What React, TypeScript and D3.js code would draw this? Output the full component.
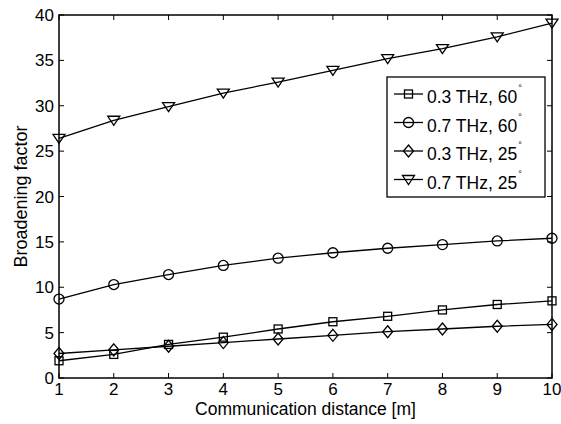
import React, { useEffect, useRef } from "react";
import * as d3 from "d3";

const distance = [1, 2, 3, 4, 5, 6, 7, 8, 9, 10];
const sq03_60 = [1.9, 2.6, 3.7, 4.5, 5.4, 6.2, 6.8, 7.5, 8.1, 8.5];
const ci07_60 = [8.7, 10.3, 11.4, 12.4, 13.2, 13.8, 14.3, 14.7, 15.1, 15.4];
const di03_25 = [2.7, 3.1, 3.5, 3.9, 4.3, 4.7, 5.1, 5.4, 5.7, 5.9];
const tr07_25 = [26.4, 28.4, 29.9, 31.4, 32.6, 33.9, 35.2, 36.3, 37.6, 39.1];
const seriesNames = ["0.3 THz, 60", "0.7 THz, 60", "0.3 THz, 25", "0.7 THz, 25"];
const markers = ["square", "circle", "diamond", "triangle"];
const yTicks = [0, 5, 10, 15, 20, 25, 30, 35, 40];

const App = () => {
  const svgRef = useRef<SVGSVGElement>(null);

  useEffect(() => {
    const svg = d3.select(svgRef.current);
    svg.selectAll("*").remove();

    const W = 561, H = 424;
    const m = { left: 59, right: 9, top: 15, bottom: 46 };
    const x = d3.scaleLinear().domain([1, 10]).range([m.left, W - m.right]);
    const y = d3.scaleLinear().domain([0, 40]).range([H - m.bottom, m.top]);
    const font = "Helvetica, Arial, 'Liberation Sans', sans-serif";

    svg.attr("width", W).attr("height", H).style("font-family", font);
    svg.append("rect").attr("width", W).attr("height", H).attr("fill", "#fff");

    const drawMarker = (g: any, type: string, cx: number, cy: number) => {
      const s = { fill: "none", stroke: "#000", "stroke-width": 1.3 };
      let el: any;
      if (type === "square") {
        el = g.append("rect").attr("x", cx - 4).attr("y", cy - 4).attr("width", 8).attr("height", 8);
      } else if (type === "circle") {
        el = g.append("circle").attr("cx", cx).attr("cy", cy).attr("r", 5);
      } else if (type === "diamond") {
        el = g.append("path").attr("d", `M${cx},${cy - 6}L${cx + 5},${cy}L${cx},${cy + 6}L${cx - 5},${cy}Z`);
      } else {
        el = g.append("path").attr("d", `M${cx - 6},${cy - 4}L${cx + 6},${cy - 4}L${cx},${cy + 5}Z`);
      }
      Object.entries(s).forEach(([k, v]) => el.attr(k, v));
    };

    // frame
    const x0 = x(1), x1 = x(10), y0 = y(0), y1 = y(40);
    svg.append("rect").attr("x", x0).attr("y", y1).attr("width", x1 - x0).attr("height", y0 - y1)
      .attr("fill", "none").attr("stroke", "#000").attr("stroke-width", 1.5);

    const tl = 5;
    distance.forEach((d) => {
      svg.append("line").attr("x1", x(d)).attr("x2", x(d)).attr("y1", y0).attr("y2", y0 - tl).attr("stroke", "#000");
      svg.append("line").attr("x1", x(d)).attr("x2", x(d)).attr("y1", y1).attr("y2", y1 + tl).attr("stroke", "#000");
      svg.append("text").attr("x", x(d)).attr("y", y0 + 17).attr("text-anchor", "middle")
        .attr("font-size", 17).text(d);
    });
    yTicks.forEach((t) => {
      svg.append("line").attr("x1", x0).attr("x2", x0 + tl).attr("y1", y(t)).attr("y2", y(t)).attr("stroke", "#000");
      svg.append("line").attr("x1", x1).attr("x2", x1 - tl).attr("y1", y(t)).attr("y2", y(t)).attr("stroke", "#000");
      svg.append("text").attr("x", x0 - 5).attr("y", y(t) + 6).attr("text-anchor", "end")
        .attr("font-size", 17).text(t);
    });

    svg.append("text").attr("x", (x0 + x1) / 2).attr("y", 415).attr("text-anchor", "middle")
      .attr("font-size", 17.5).text("Communication distance [m]");
    svg.append("text").attr("transform", `translate(27,${(y0 + y1) / 2}) rotate(-90)`)
      .attr("text-anchor", "middle").attr("font-size", 18).text("Broadening factor");

    const all = [sq03_60, ci07_60, di03_25, tr07_25];
    const line = d3.line<number>().x((_, i) => x(distance[i])).y((v) => y(v));
    all.forEach((vals, si) => {
      svg.append("path").attr("d", line(vals)).attr("fill", "none").attr("stroke", "#000").attr("stroke-width", 1.3);
      const g = svg.append("g");
      vals.forEach((v, i) => drawMarker(g, markers[si], x(distance[i]), y(v)));
    });

    // legend
    const lg = svg.append("g");
    lg.append("rect").attr("x", 387).attr("y", 77).attr("width", 158).attr("height", 120)
      .attr("fill", "#fff").attr("stroke", "#000").attr("stroke-width", 1.3);
    seriesNames.forEach((n, i) => {
      const ly = 94 + i * 28.5;
      lg.append("line").attr("x1", 394).attr("x2", 423).attr("y1", ly).attr("y2", ly)
        .attr("stroke", "#000").attr("stroke-width", 1.3);
      drawMarker(lg, markers[i], 408.5, ly);
      const t = lg.append("text").attr("x", 427).attr("y", ly + 9).attr("font-size", 17.5);
      t.append("tspan").text(n);
      t.append("tspan").attr("font-size", 9).attr("dx", 1).attr("dy", -12).text("°");
    });
  }, []);

  return <svg ref={svgRef} style={{ position: "absolute", left: 0, top: 0 }}></svg>;
};

export default App;
